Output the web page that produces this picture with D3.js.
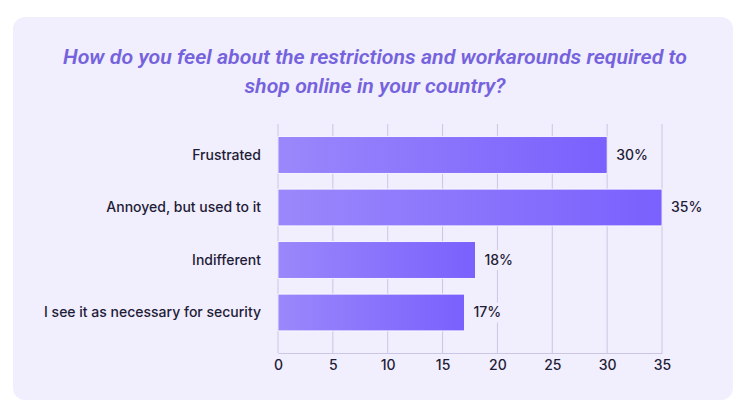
<!DOCTYPE html>
<html>
<head>
<meta charset="utf-8">
<script src="https://cdn.jsdelivr.net/npm/d3@7"></script>
<style>
  body { margin: 0; background: #fff; }
  svg { display: block; }
</style>
</head>
<body>
<script>
let W = 750, H = 418;

let categories = ["Frustrated", "Annoyed, but used to it", "Indifferent", "I see it as necessary for security"];
let values = [30, 35, 18, 17];
let ticks = [0, 5, 10, 15, 20, 25, 30, 35];
let titleLines = ["How do you feel about the restrictions and workarounds required to", "shop online in your country?"];
let titleWidths = [624, 261];

let svg = d3.select("body").append("svg").attr("width", W).attr("height", H);

let defs = svg.append("defs");
let grad = defs.append("linearGradient").attr("id", "barGrad")
  .attr("x1", "0%").attr("x2", "100%").attr("y1", "0%").attr("y2", "0%");
grad.append("stop").attr("offset", "0%").attr("stop-color", "#9a88fb");
grad.append("stop").attr("offset", "100%").attr("stop-color", "#7a60fd");

// card
svg.append("rect")
  .attr("x", 13).attr("y", 17).attr("width", 720).attr("height", 383)
  .attr("rx", 12).attr("fill", "#f1eefd");

// title (condensed by fitting to measured width)
svg.append("g").selectAll("text").data(titleLines).join("text")
  .attr("x", 375).attr("y", (d, i) => 64 + i * 29)
  .attr("text-anchor", "middle")
  .attr("textLength", (d, i) => titleWidths[i])
  .attr("lengthAdjust", "spacingAndGlyphs")
  .attr("font-family", "Roboto, sans-serif")
  .attr("font-style", "italic").attr("font-weight", 600)
  .attr("font-size", 21).attr("fill", "#7563dd")
  .text(d => d);

let x = d3.scaleLinear().domain([0, 35]).range([278, 662]);
let y = d3.scaleBand().domain(categories).range([128.75, 338.75]).paddingInner(0.3).paddingOuter(0.15);

let gridTop = 124, gridBottom = 353;

// grid
svg.append("g").selectAll("line").data(ticks).join("line")
  .attr("x1", d => x(d)).attr("x2", d => x(d))
  .attr("y1", gridTop).attr("y2", gridBottom)
  .attr("stroke", "#cbc6e6").attr("stroke-width", 1);

// x axis
let xAxis = d3.axisBottom(x).tickValues(ticks).tickSize(0).tickPadding(7);
let ax = svg.append("g").attr("transform", "translate(0," + gridBottom + ")").call(xAxis);
ax.select(".domain").attr("stroke", "#cbc6e6");
ax.selectAll("text").attr("font-family", "Inter, 'Noto Sans', sans-serif")
  .attr("font-size", 14).attr("font-weight", 500).attr("fill", "#1e1c36");

// bars
svg.append("g").selectAll("rect").data(values).join("rect")
  .attr("x", x(0))
  .attr("y", (d, i) => y(categories[i]))
  .attr("width", d => x(d) - x(0))
  .attr("height", y.bandwidth())
  .attr("fill", "url(#barGrad)")
  .attr("stroke", "#ffffff").attr("stroke-width", 0.8);

// category labels
svg.append("g").selectAll("text").data(categories).join("text")
  .attr("x", 261)
  .attr("y", d => y(d) + y.bandwidth() / 2)
  .attr("dy", "0.35em")
  .attr("text-anchor", "end")
  .attr("font-family", "Inter, 'Noto Sans', sans-serif")
  .attr("font-size", 14).attr("font-weight", 500).attr("fill", "#1e1c36")
  .text(d => d);

// value labels with background
let vl = svg.append("g").selectAll("g").data(values).join("g")
  .attr("transform", (d, i) => "translate(" + (x(d) + 9) + "," + (y(categories[i]) + y.bandwidth() / 2) + ")");
vl.append("rect").attr("x", -3).attr("y", -10).attr("width", 40).attr("height", 20).attr("fill", "#f1eefd");
vl.append("text")
  .attr("dy", "0.35em")
  .attr("font-family", "Inter, 'Noto Sans', sans-serif")
  .attr("font-size", 14).attr("font-weight", 500).attr("fill", "#1e1c36")
  .text(d => d + "%");
</script>
</body>
</html>
